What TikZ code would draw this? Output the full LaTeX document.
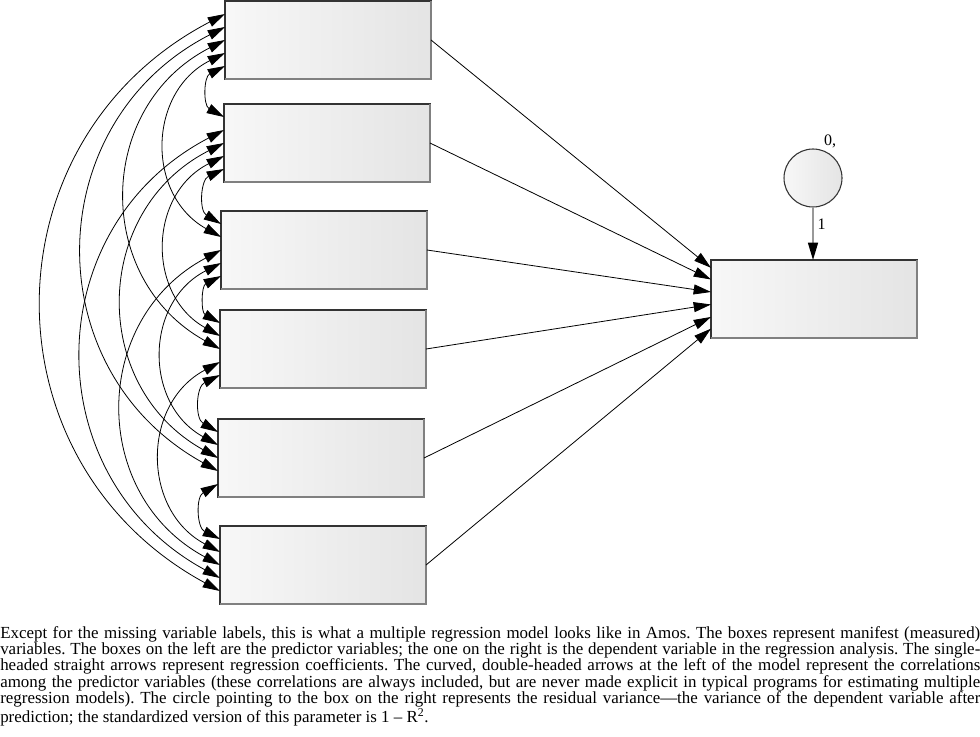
\documentclass[tikz,border=0pt]{standalone}
\usepackage{fontspec}
\setmainfont{Liberation Serif}
\usetikzlibrary{calc,arrows.meta}

\tikzset{
  >={Triangle[length=13pt,width=7.5pt]},
  varbox/.style={draw=black!80, line width=0.8pt, left color=gray!6, right color=gray!21,
    minimum width=154.5pt, minimum height=58.5pt, inner sep=0pt, outer sep=0pt},
  errcirc/.style={circle, draw=black!80, line width=0.8pt, left color=gray!6, right color=gray!21,
    minimum size=43.5pt, inner sep=0pt, outer sep=0pt},
  corr/.style={<->, line width=0.6pt},
  reg/.style={->, line width=0.6pt},
  smalltext/.style={font=\fontsize{12}{12.25}\selectfont, text=black, inner sep=0pt},
  captext/.style={font=\fontsize{12.7}{12.25}\selectfont\frenchspacing, text width=735pt, align=justify, inner sep=0pt}
}

\begin{document}
\begin{tikzpicture}[x=0.75pt, y=-0.75pt]
    \useasboundingbox (0,0) rectangle (980,736);
    % predictor boxes
    \node[varbox, anchor=north west] (x1) at (225,1) {};
    \node[varbox, anchor=north west] (x2) at (224,104) {};
    \node[varbox, anchor=north west] (x3) at (221,211) {};
    \node[varbox, anchor=north west] (x4) at (220,310) {};
    \node[varbox, anchor=north west] (x5) at (218,419) {};
    \node[varbox, anchor=north west] (x6) at (220,526) {};
    % dependent box and residual
    \node[varbox, anchor=north west] (y) at (711,260) {};
    \node[errcirc] (e) at (813,178) {};
    \foreach \b in {x1,x2,x3,x4,x5,x6,y}
        \draw[black!50, line width=0.8pt] (\b.north east) -- (\b.south east) -- (\b.south west);
    \node[smalltext] (elab) at (830,141) {0,};
    \draw[gray!80, line width=1.1pt, -{Triangle[length=13pt,width=7.5pt,color=black]}] (e.south) -- (e.south |- y.north)
        node[smalltext, pos=0.33, right=3pt] (wlab) {1};
    % attachment points
    \foreach \i in {1,...,6}
        \foreach \m in {1,...,5}
            \coordinate (p\i\m) at ($(x\i.north west)!{\m/6}!(x\i.south west)$);
    \foreach \i/\f in {1/0.1,2/0.25,3/0.41,4/0.57,5/0.73,6/0.88}
        \coordinate (q\i) at ($(y.north west)!\f!(y.south west)$);
    % regression paths
    \foreach \i in {1,...,6}
        \draw[reg] (x\i.east) -- (q\i);
    % correlations
    \foreach \i in {1,...,5}{
        \pgfmathtruncatemacro\nxt{\i+1}
        \foreach \j in {\nxt,...,6}{
            \pgfmathtruncatemacro\a{\i+6-\j}
            \pgfmathtruncatemacro\c{\j-\i}
            \draw[corr] (p\i\a) to[bend right=62, looseness=1.2] (p\j\c);
        }
    }
    % caption
    \node[captext, anchor=north west] (cap) at (0,626) {Except for the missing variable labels, this is what a multiple regression model looks like in Amos. The boxes represent manifest (measured)\linebreak
    variables. The boxes on the left are the predictor variables; the one on the right is the dependent variable in the regression analysis. The single-\linebreak
    headed straight arrows represent regression coefficients. The curved, double-headed arrows at the left of the model represent the correlations\linebreak
    among the predictor variables (these correlations are always included, but are never made explicit in typical programs for estimating multiple\linebreak
    regression models). The circle pointing to the box on the right represents the residual variance---the variance of the dependent variable after\linebreak
    prediction; the standardized version of this parameter is 1~--~R\textsuperscript{2}.};
\end{tikzpicture}
\end{document}
